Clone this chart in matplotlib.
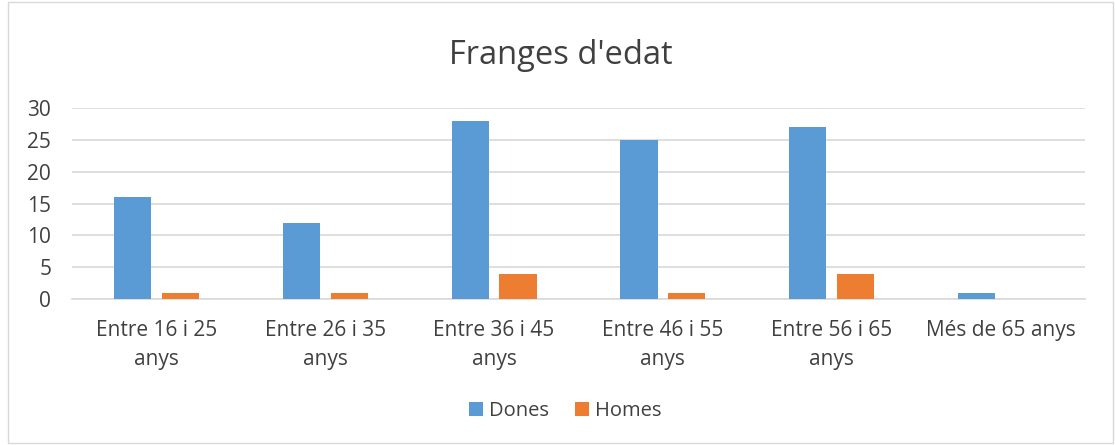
import matplotlib
matplotlib.use("Agg")
import matplotlib.pyplot as plt
import numpy as np
from matplotlib.patches import Rectangle

categories = ["Entre 16 i 25\nanys", "Entre 26 i 35\nanys", "Entre 36 i 45\nanys",
              "Entre 46 i 55\nanys", "Entre 56 i 65\nanys", "Més de 65 anys"]
dones = [16, 12, 28, 25, 27, 1]
homes = [1, 1, 4, 1, 4, 0]
yticks = [0, 5, 10, 15, 20, 25, 30]
title = "Franges d'edat"

plt.rcParams['font.family'] = ['Open Sans', 'DejaVu Sans']
text_color = '#404040'

fig = plt.figure(figsize=(11.15, 4.45), dpi=100)
fig.patches.append(Rectangle((8/1115, 0.004), (1113-8)/1115, 0.992, transform=fig.transFigure,
                             fill=False, edgecolor='#d9d9d9', linewidth=1))
ax = fig.add_axes([72/1115, 1-299/445, (1085-72)/1115, (299-108)/445])

x = np.arange(len(categories))
w = 0.22
off = 0.142
ax.bar(x - off, dones, w, color='#5b9bd5', label='Dones', zorder=3)
ax.bar(x + off, homes, w, color='#ed7d31', label='Homes', zorder=3)

ax.set_xlim(-0.5, len(categories) - 0.5)
ax.set_ylim(0, 30)
ax.set_yticks(yticks)
ax.set_xticks(x)
ax.set_xticklabels(categories, fontsize=15, color=text_color, linespacing=1.5)
ax.tick_params(axis='y', labelsize=15, colors=text_color, length=0, pad=15)
ax.tick_params(axis='x', length=0, pad=15)
ax.grid(axis='y', color='#d9d9d9', linewidth=1.2, zorder=0)
for s in ['top', 'right', 'left']:
    ax.spines[s].set_visible(False)
ax.spines['bottom'].set_color('#d9d9d9')
ax.spines['bottom'].set_linewidth(1.2)

fig.text(0.503, 1-55/445, title, ha='center', va='center', fontsize=23.5, color=text_color)
fig.legend(loc='center', bbox_to_anchor=(0.507, 1-411/445), ncol=2, frameon=False,
           fontsize=14.5, handlelength=0.7, handleheight=0.7, handletextpad=0.3,
           columnspacing=1.3, labelcolor=text_color)

fig.savefig('out.png', dpi=100)
